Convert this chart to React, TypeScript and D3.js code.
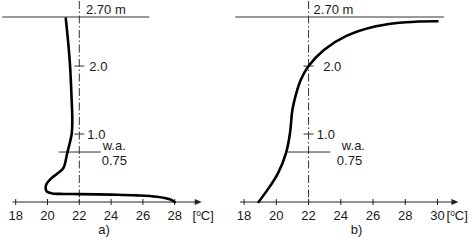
import React from "react";
import * as d3 from "d3";

// ---- data ----
const heightTicks = [1.0, 2.0];
const ceilingHeight = 2.7;
const workingHeight = 0.75;
const refTemp = 22;

const ticksA = [18, 20, 22, 24, 26, 28];
const ticksB = [18, 20, 22, 24, 26, 28, 30];

// profile a) : floor heating (height m, temperature °C), ordered from ceiling to floor
const profileA_H = [2.7, 2.35, 2.0, 1.5, 1.2, 1.0, 0.72, 0.5, 0.42, 0.34, 0.26, 0.2, 0.15, 0.126, 0.118, 0.116, 0.108, 0.098, 0.078, 0.04, 0];
const profileA_T = [21.15, 21.3, 21.42, 21.52, 21.56, 21.52, 21.24, 21.0, 20.62, 20.2, 19.93, 19.88, 19.97, 20.3, 21.0, 22.0, 24.0, 25.6, 26.87, 27.7, 28.0];

// profile b) : ceiling heating
const profileB_H = [0, 0.23, 0.42, 0.72, 1.0, 1.21, 1.36, 1.65, 1.8, 2.0, 2.24, 2.44, 2.585, 2.645, 2.66];
const profileB_T = [18.9, 19.6, 20.1, 20.6, 20.84, 20.93, 21.0, 21.3, 21.52, 22.0, 22.97, 24.32, 26.18, 28.04, 30.0];

const W = 472;
const H = 240;
const FONT = "'Liberation Sans', Arial, sans-serif";
const INK = "#1a1a1a";

const y = d3.scaleLinear().domain([0, ceilingHeight]).range([202, 18.5]);

type PanelProps = {
  x: d3.ScaleLinear<number, number>;
  ticks: number[];
  hs: number[];
  ts: number[];
  axisFrom: number;
  axisTo: number;
  topFrom: number;
  topTo: number;
  caption: string;
  captionX: number;
  unitX: number;
  ceilOff: number;
  tickLabelOff: number[];
  waTextOff: number;
  waValOff: number;
};

function Panel(p: PanelProps) {
  const { x } = p;
  const x0 = x(refTemp);
  const axisY = y(0);
  const line = d3
    .line<number>()
    .x((_, i) => x(p.ts[i]))
    .y((h) => y(h))
    .curve(d3.curveCatmullRom.alpha(0.5));
  const ax1 = x(p.axisTo);
  return (
    <g>
      {/* ceiling line */}
      <line x1={x(p.topFrom)} x2={x(p.topTo)} y1={y(ceilingHeight) - 1.5} y2={y(ceilingHeight) - 1.5} stroke="#333" strokeWidth={1} />
      <text x={x0 + p.ceilOff} y={14} fontSize={13} fontFamily={FONT} fill={INK}>
        2.70 m
      </text>
      {/* dash-dot reference line */}
      <line x1={x0} x2={x0} y1={1} y2={axisY + 1.5} stroke="#333" strokeWidth={1} strokeDasharray="8,2.5,1.5,2.5" />
      {/* height ticks */}
      {heightTicks.map((h, i) => (
        <g key={h}>
          <line x1={x0 - 5} x2={x0 + 5} y1={y(h)} y2={y(h)} stroke="#333" strokeWidth={1} />
          <text x={x0 + p.tickLabelOff[i]} y={y(h) + 4.6} fontSize={13} fontFamily={FONT} fill={INK}>
            {d3.format(".1f")(h)}
          </text>
        </g>
      ))}
      {/* working area */}
      <line x1={x(refTemp - 1.3)} x2={x(refTemp + 1.35)} y1={y(workingHeight) + 1} y2={y(workingHeight) + 1} stroke="#333" strokeWidth={1} />
      <text x={x0 + p.waTextOff} y={y(workingHeight) - 1} fontSize={13} fontFamily={FONT} fill={INK}>
        w.a.
      </text>
      <text x={x0 + p.waValOff} y={y(workingHeight) + 13.5} fontSize={13} fontFamily={FONT} fill={INK}>
        {d3.format(".2f")(workingHeight)}
      </text>
      {/* x axis */}
      <line x1={x(p.axisFrom)} x2={ax1 - 4} y1={axisY} y2={axisY} stroke="#222" strokeWidth={1.2} />
      <path d={`M${ax1},${axisY} L${ax1 - 7},${axisY - 3} L${ax1 - 7},${axisY + 3} Z`} fill="#222" />
      {p.ticks.map((t) => (
        <g key={t}>
          <line x1={x(t)} x2={x(t)} y1={axisY - 3} y2={axisY + 3} stroke="#222" strokeWidth={1} />
          <text x={x(t)} y={220} textAnchor="middle" fontSize={13} fontFamily={FONT} fill={INK}>
            {t}
          </text>
        </g>
      ))}
      <text x={p.unitX} y={220} fontSize={13} fontFamily={FONT} fill={INK}>
        [<tspan fontSize={8.5} dy={-4}>o</tspan>
        <tspan dy={4}>C]</tspan>
      </text>
      <text x={p.captionX} y={234} textAnchor="middle" fontSize={13} fontFamily={FONT} fill={INK}>
        {p.caption}
      </text>
      {/* profile curve */}
      <path d={line(p.hs) || ""} fill="none" stroke="#000" strokeWidth={2.6} strokeLinecap="round" strokeLinejoin="round" />
    </g>
  );
}

export default function App() {
  const xA = d3.scaleLinear().domain([18, 28]).range([15.7, 174.7]);
  const xB = d3.scaleLinear().domain([18, 30]).range([244.1, 437.5]);
  return (
    <svg width={W} height={H} style={{ position: "absolute", left: 0, top: 0, background: "#fff" }}>
      <rect width={W} height={H} fill="#fff" />
      <Panel
        x={xA}
        ticks={ticksA}
        hs={profileA_H}
        ts={profileA_T}
        axisFrom={17.8}
        axisTo={29.7}
        topFrom={17.15}
        topTo={26.4}
        caption="a)"
        captionX={104}
        unitX={192.5}
        ceilOff={6.7}
        tickLabelOff={[8, 10]}
        waTextOff={23.4}
        waValOff={22.4}
      />
      <Panel
        x={xB}
        ticks={ticksB}
        hs={profileB_H}
        ts={profileB_T}
        axisFrom={17.75}
        axisTo={31.3}
        topFrom={17.45}
        topTo={30.4}
        caption="b)"
        captionX={356.5}
        unitX={446.5}
        ceilOff={5}
        tickLabelOff={[8.3, 14.6]}
        waTextOff={33.3}
        waValOff={28.3}
      />
    </svg>
  );
}
